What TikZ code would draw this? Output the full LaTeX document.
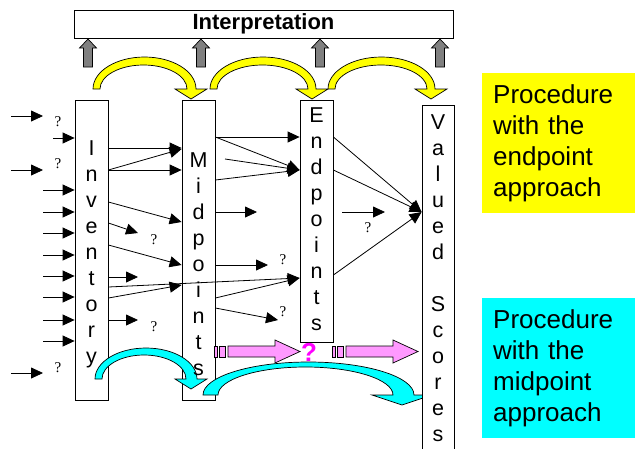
\documentclass[tikz,border=0pt]{standalone}
\usepackage{fontspec}
\setmainfont{Liberation Sans}
\newfontfamily\qfont{Liberation Serif}
\usetikzlibrary{arrows.meta,positioning}
\definecolor{arcyellow}{HTML}{FFFF00}
\definecolor{arccyan}{HTML}{00FFFF}
\definecolor{flowpink}{HTML}{FF99FF}
\definecolor{qmagenta}{HTML}{FF00FF}
\definecolor{upgray}{HTML}{808080}

\tikzset{
  colbox/.style={draw, fill=white, line width=0.8pt, minimum width=33pt, inner sep=0pt},
  letters/.style={anchor=north, align=center, inner sep=0pt, font=\fontsize{21.5}{26}\selectfont},
  arr/.style={-{Triangle[length=12pt,width=11pt]}, line width=0.8pt},
  qmark/.style={inner sep=0pt, font=\qfont\fontsize{15}{15}\selectfont},
  blockarrow/.style={draw=black, line width=0.7pt, line join=miter},
  note/.style={anchor=north west, minimum height=140pt, text width=131pt, inner xsep=11pt,
    align=left, font=\fontsize{26}{31}\selectfont},
}

% bent block arrow: colour, base y, outer left/right x, outer height,
% inner left/right x, inner height, tip x
\newcommand{\bentarrow}[9]{%
  \filldraw[blockarrow, fill=#1] (#3,#2)
    arc[start angle=180, end angle=0, x radius={(#4-#3)/2*1pt}, y radius=#5pt]
    -- (#9+\headw,#2) -- (#9,#2+10) -- (#9-\headw,#2) -- (#7,#2)
    arc[start angle=0, end angle=180, x radius={(#7-#6)/2*1pt}, y radius=#8pt]
    -- cycle;}

\begin{document}
\begin{tikzpicture}[x=1pt, y=-1pt]
  \useasboundingbox (0,0) rectangle (635,448);

  % Interpretation bar
  \node[draw, line width=0.8pt, minimum width=379pt, minimum height=28pt, inner sep=0pt,
    font=\bfseries\fontsize{22}{26}\selectfont] (interp) at (263.5,24) {Interpretation};
  \foreach \x in {88,201,320,440} {
    \filldraw[blockarrow, fill=upgray] (\x-4.5,67) -- (\x-4.5,48) -- (\x-8.5,48)
      -- (\x,39) -- (\x+8.5,48) -- (\x+4.5,48) -- (\x+4.5,67) -- cycle;
  }

  % yellow arcs (endpoint approach)
  \def\headw{16}
  \bentarrow{arcyellow}{89}{93}{196}{32}{100}{187}{24}{191}
  \bentarrow{arcyellow}{89}{210}{316}{32}{217}{308}{24}{312}
  \bentarrow{arcyellow}{89}{328}{435}{32}{335}{427}{24}{431}

  % columns
  \node[colbox, minimum height=300pt] (inv) at (91.5,250) {};
  \node[colbox, minimum height=300pt] (mid) at (198.5,250) {};
  \node[colbox, minimum height=242pt] (endp) at (316.5,221) {};

  % free end points
  \coordinate (e1) at (138,233);
  \coordinate (e2) at (138,277);
  \coordinate (e3) at (138,320);
  \coordinate (e4) at (257,212);
  \coordinate (e5) at (268,265);
  \coordinate (e6) at (278,320);

  % inputs to the inventory
  \draw[arr] (11,116) -- (43,116);
  \draw[arr] (11,170) -- (43,170);
  \draw[arr] (11,373) -- (43,373);
  \draw[arr] (53,138) -- (inv.west |- 0,138);
  \foreach \y in {190,212,233,255,276,297,320,341}
    \draw[arr] (43,\y) -- (inv.west |- 0,\y);

  % inventory -> midpoints
  \draw[arr] (inv.east |- 0,148) -- (mid.west |- 0,148);
  \draw[arr] (inv.east |- 0,170) -- (mid.west |- 0,149);
  \draw[arr] (inv.east |- 0,170) -- (mid.west |- 0,170);
  \draw[arr] (inv.east |- 0,202) -- (mid.west |- 0,222);
  \draw[arr] (inv.east |- 0,223) -- (e1);
  \draw[arr] (inv.east |- 0,245) -- (mid.west |- 0,265);
  \draw[arr] (inv.east |- 0,277) -- (e2);
  \draw[arr] (inv.east |- 0,287) -- (endp.west |- 0,278);
  \draw[arr] (inv.east |- 0,298) -- (mid.west |- 0,285);
  \draw[arr] (inv.east |- 0,320) -- (e3);

  % midpoints -> endpoints
  \draw[arr] (mid.east |- 0,137) -- (endp.west |- 0,137);
  \draw[arr] (mid.east |- 0,137) -- (endp.west |- 0,170);
  \draw[arr] (225,159) -- (endp.west |- 0,170);
  \draw[arr] (mid.east |- 0,180) -- (endp.west |- 0,170);
  \draw[arr] (mid.east |- 0,212) -- (e4);
  \draw[arr] (mid.east |- 0,265) -- (e5);
  \draw[arr] (mid.east |- 0,298) -- (endp.west |- 0,278);
  \draw[arr] (mid.east |- 0,308) -- (e6);

  % pink block arrows (midpoint approach)
  \foreach \s/\e in {214/300, 332/418} {
    \filldraw[blockarrow, fill=flowpink] (\s,346) rectangle (\s+3,357);
    \filldraw[blockarrow, fill=flowpink] (\s+5,346) rectangle (\s+11,357);
    \filldraw[blockarrow, fill=flowpink] (\s+14,346) -- (\e-25,346) -- (\e-25,340)
      -- (\e,351.5) -- (\e-25,363) -- (\e-25,357) -- (\s+14,357) -- cycle;
  }
  \node[text=qmagenta, inner sep=0pt, font=\bfseries\fontsize{26}{26}\selectfont] (qbig) at (309,352) {?};

  % cyan arcs (midpoint approach)
  \bentarrow{arccyan}{379}{95}{197}{31}{102}{186}{24}{191}
  \def\headw{30}
  \bentarrow{arccyan}{395}{203}{414}{33}{218}{393}{28}{402}

  \node[colbox, minimum width=32pt, minimum height=347pt] (val) at (438,278.5) {};

  % endpoints -> valued scores
  \draw[arr] (endp.east |- 0,137) -- (val.west |- 0,212);
  \draw[arr] (endp.east |- 0,170) -- (val.west |- 0,212);
  \draw[arr] (endp.east |- 0,275) -- (val.west |- 0,212);
  \draw[arr] (342,212) -- (385,212);

  % column labels
  \node[letters] (invtxt) at (91.5,140.3) {I\\n\\v\\e\\n\\t\\o\\r\\y};
  \node[letters] (midtxt) at (198.5,152.3) {M\\i\\d\\p\\o\\i\\n\\t\\s};
  \node[letters] (endtxt) at (316.5,107.3) {E\\n\\d\\p\\o\\i\\n\\t\\s};
  \node[letters] (valtxt) at (438,114.3) {V\\a\\l\\u\\e\\d\\[26pt]S\\c\\o\\r\\e\\s};

  % unknown values
  \foreach \x/\y in {58/122, 58/164, 58/368, 154/240, 154/327, 283/260, 283/312, 368/228}
    \node[qmark] at (\x,\y) {?};

  % legend
  \node[note, fill=arcyellow] (endnote) at (482,73) {Procedure\\with the\\endpoint\\approach};
  \node[note, fill=arccyan] (midnote) at (482,298) {Procedure\\with the\\midpoint\\approach};
\end{tikzpicture}
\end{document}
